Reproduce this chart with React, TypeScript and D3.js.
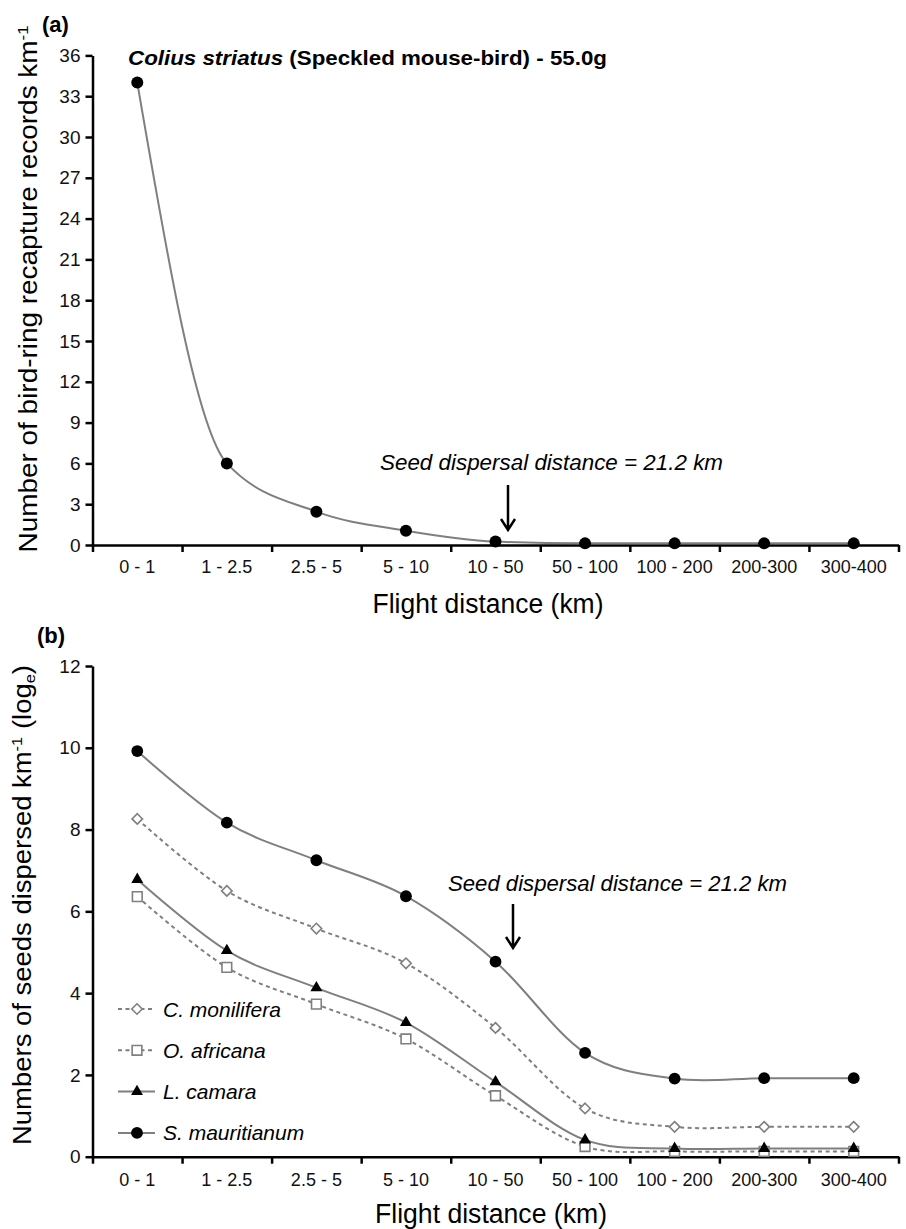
import React, { useEffect, useRef } from "react";
import * as d3 from "d3";

// flight distance classes (km)
const categories = ["0 - 1", "1 - 2.5", "2.5 - 5", "5 - 10", "10 - 50", "50 - 100", "100 - 200", "200-300", "300-400"];

// (a) Colius striatus bird-ring recaptures per km
const recaptures = [34, 6, 2.45, 1.05, 0.25, 0.12, 0.12, 0.12, 0.12];
const ticksA = [0, 3, 6, 9, 12, 15, 18, 21, 24, 27, 30, 33, 36];

// (b) seeds dispersed per km (log e)
const cMonilifera = [8.26, 6.5, 5.58, 4.73, 3.15, 1.18, 0.73, 0.73, 0.73];
const oAfricana = [6.36, 4.63, 3.73, 2.88, 1.49, 0.25, 0.13, 0.13, 0.13];
const lCamara = [6.78, 5.04, 4.13, 3.28, 1.83, 0.41, 0.2, 0.2, 0.2];
const sMauritianum = [9.92, 8.17, 7.25, 6.37, 4.77, 2.54, 1.91, 1.92, 1.92];
const ticksB = [0, 2, 4, 6, 8, 10, 12];

const W = 906;
const H = 1229;
const FONT = "'Liberation Sans', Arial, Helvetica, sans-serif";
const GREY = "#7f7f7f";

const seriesB = [
  { name: "C. monilifera", values: cMonilifera, dashed: true, symbol: d3.symbolDiamond2, size: 70, filled: false },
  { name: "O. africana", values: oAfricana, dashed: true, symbol: d3.symbolSquare2, size: 120, filled: false },
  { name: "L. camara", values: lCamara, dashed: false, symbol: d3.symbolTriangle, size: 62, filled: true },
  { name: "S. mauritianum", values: sMauritianum, dashed: false, symbol: d3.symbolCircle, size: 110, filled: true },
];

function drawAxes(svg, x, y, yTicks, labelPad) {
  const idx = d3.scaleLinear().domain([0, categories.length]).range(x.range());
  const y0 = y.range()[0];

  svg.append("g")
    .attr("transform", `translate(0,${y0})`)
    .call(d3.axisBottom(idx).tickValues(d3.range(categories.length + 1)).tickFormat(() => "").tickSize(7).tickSizeOuter(0))
    .call(g => g.selectAll("line, path").attr("stroke", "#000").attr("stroke-width", 2.5));

  svg.append("g")
    .attr("transform", `translate(0,${y0})`)
    .call(d3.axisBottom(x).tickSize(0).tickPadding(labelPad))
    .call(g => g.select(".domain").remove())
    .call(g => g.selectAll("text").attr("font-size", 18).attr("font-family", FONT).attr("fill", "#111"));

  svg.append("g")
    .attr("transform", `translate(${x.range()[0]},0)`)
    .call(d3.axisLeft(y).tickValues(yTicks).tickSize(7).tickSizeOuter(0).tickPadding(5))
    .call(g => g.selectAll("line, path").attr("stroke", "#000").attr("stroke-width", 2.5))
    .call(g => g.selectAll("text").attr("font-size", 19).attr("font-family", FONT).attr("fill", "#111"));
}

function arrow(svg, ax, y1, y2) {
  svg.append("path")
    .attr("d", `M${ax},${y1}V${y2}M${ax - 7},${y2 - 11}L${ax},${y2}L${ax + 7},${y2 - 11}`)
    .attr("fill", "none")
    .attr("stroke", "#000")
    .attr("stroke-width", 2.5);
}

function drawA(svg) {
  const x = d3.scaleBand().domain(categories).range([92.5, 898.5]);
  const y = d3.scaleLinear().domain([0, 36]).range([545, 55.4]);
  const cx = (i) => x(categories[i]) + x.bandwidth() / 2;

  drawAxes(svg, x, y, ticksA, 15);

  const line = d3.line().x((d, i) => cx(i)).y(d => y(d)).curve(d3.curveMonotoneX);
  svg.append("path").attr("d", line(recaptures)).attr("fill", "none").attr("stroke", GREY).attr("stroke-width", 2);

  svg.append("g").selectAll("circle").data(recaptures).enter().append("circle")
    .attr("cx", (d, i) => cx(i)).attr("cy", d => y(d)).attr("r", 6).attr("fill", "#000");

  svg.append("text").attr("x", 42).attr("y", 32).attr("font-family", FONT).attr("font-weight", "bold")
    .attr("font-size", 22).text("(a)");

  const t = svg.append("text").attr("x", 128).attr("y", 65).attr("font-family", FONT).attr("font-weight", "bold")
    .attr("font-size", 21).attr("textLength", 479).attr("lengthAdjust", "spacingAndGlyphs");
  t.append("tspan").attr("font-style", "italic").text("Colius striatus");
  t.append("tspan").text(" (Speckled mouse-bird) - 55.0g");

  const yt = svg.append("text").attr("transform", "translate(37,289) rotate(-90)").attr("text-anchor", "middle")
    .attr("font-family", FONT).attr("font-size", 25).attr("textLength", 527).attr("lengthAdjust", "spacingAndGlyphs");
  yt.append("tspan").text("Number of bird-ring recapture records km");
  yt.append("tspan").attr("font-size", 15).attr("dy", -9).text("-1");

  svg.append("text").attr("x", 488).attr("y", 613).attr("text-anchor", "middle").attr("font-family", FONT)
    .attr("font-size", 27).attr("textLength", 231).attr("lengthAdjust", "spacingAndGlyphs").text("Flight distance (km)");

  svg.append("text").attr("x", 380).attr("y", 470).attr("font-family", FONT).attr("font-style", "italic")
    .attr("font-size", 22).attr("textLength", 343).attr("lengthAdjust", "spacingAndGlyphs")
    .text("Seed dispersal distance = 21.2 km");
  arrow(svg, cx(4) + 12.5, 485, 530);
}

function drawB(svg) {
  const x = d3.scaleBand().domain(categories).range([92.5, 898.5]);
  const y = d3.scaleLinear().domain([0, 12]).range([1156.7, 666]);
  const cx = (i) => x(categories[i]) + x.bandwidth() / 2;

  drawAxes(svg, x, y, ticksB, 17);

  const line = d3.line().x((d, i) => cx(i)).y(d => y(d)).curve(d3.curveCatmullRom.alpha(0));

  seriesB.forEach(s => {
    svg.append("path").attr("d", line(s.values)).attr("fill", "none").attr("stroke", GREY)
      .attr("stroke-width", 2).attr("stroke-dasharray", s.dashed ? "4,3.5" : null);
  });
  seriesB.forEach(s => {
    const sym = d3.symbol().type(s.symbol).size(s.size);
    svg.append("g").selectAll("path").data(s.values).enter().append("path")
      .attr("transform", (d, i) => `translate(${cx(i)},${y(d)})`)
      .attr("d", sym())
      .attr("fill", s.filled ? "#000" : "#fff")
      .attr("stroke", s.filled ? "none" : GREY)
      .attr("stroke-width", 1.6);
  });

  // legend
  const leg = svg.append("g").attr("transform", "translate(118,1009)");
  seriesB.forEach((s, i) => {
    const row = leg.append("g").attr("transform", `translate(0,${i * 41.3})`);
    row.append("line").attr("x1", 0).attr("x2", 37).attr("stroke", GREY).attr("stroke-width", 2)
      .attr("stroke-dasharray", s.dashed ? "4,3.5" : null);
    row.append("path").attr("transform", "translate(19,0)").attr("d", d3.symbol().type(s.symbol).size(s.size)())
      .attr("fill", s.filled ? "#000" : "#fff").attr("stroke", s.filled ? "none" : GREY).attr("stroke-width", 1.6);
    row.append("text").attr("x", 45).attr("y", 7.5).attr("font-family", FONT).attr("font-style", "italic")
      .attr("font-size", 21).text(s.name);
  });

  svg.append("text").attr("x", 37).attr("y", 643).attr("font-family", FONT).attr("font-weight", "bold")
    .attr("font-size", 22).text("(b)");

  const yt = svg.append("text").attr("transform", "translate(31,905) rotate(-90)").attr("text-anchor", "middle")
    .attr("font-family", FONT).attr("font-size", 25).attr("textLength", 480).attr("lengthAdjust", "spacingAndGlyphs");
  yt.append("tspan").text("Numbers of seeds dispersed  km");
  yt.append("tspan").attr("font-size", 15).attr("dy", -9).text("-1");
  yt.append("tspan").attr("dy", 9).text(" (log");
  yt.append("tspan").attr("font-size", 15).attr("dy", 4).text("e");
  yt.append("tspan").attr("dy", -4).text(")");

  svg.append("text").attr("x", 491).attr("y", 1223).attr("text-anchor", "middle").attr("font-family", FONT)
    .attr("font-size", 27).attr("textLength", 232).attr("lengthAdjust", "spacingAndGlyphs").text("Flight distance (km)");

  svg.append("text").attr("x", 448).attr("y", 891).attr("font-family", FONT).attr("font-style", "italic")
    .attr("font-size", 22).attr("textLength", 339).attr("lengthAdjust", "spacingAndGlyphs")
    .text("Seed dispersal distance = 21.2 km");
  arrow(svg, cx(4) + 17.5, 904, 948);
}

export default function App() {
  const ref = useRef(null);

  useEffect(() => {
    const svg = d3.select(ref.current);
    svg.selectAll("*").remove();
    drawA(svg);
    drawB(svg);
  }, []);

  return (
    <svg ref={ref} width={W} height={H}
      style={{ position: "absolute", left: 0, top: 0, background: "#fff" }} />
  );
}
